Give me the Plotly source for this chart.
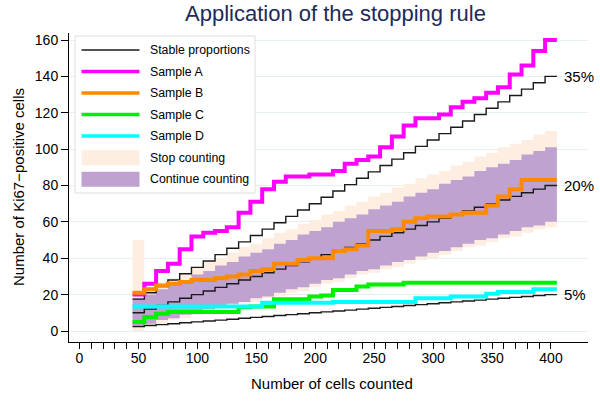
import plotly.graph_objects as go

# ---------------- data ----------------
cells = [50, 60, 70, 80, 90, 100, 110, 120, 130, 140, 150, 160, 170, 180, 190, 200, 210, 220,
         230, 240, 250, 260, 270, 280, 290, 300, 310, 320, 330, 340, 350, 360, 370, 380, 390, 400]

stable_5 = [2.5, 3, 3.5, 4, 4.5, 5, 5.5, 6, 6.5, 7, 7.5, 8, 8.5, 9, 9.5, 10, 10.5, 11,
            11.5, 12, 12.5, 13, 13.5, 14, 14.5, 15, 15.5, 16, 16.5, 17, 17.5, 18, 18.5, 19, 19.5, 20]
stable_20 = [10, 12, 14, 16, 18, 20, 22, 24, 26, 28, 30, 32, 34, 36, 38, 40, 42, 44,
             46, 48, 50, 52, 54, 56, 58, 60, 62, 64, 66, 68, 70, 72, 74, 76, 78, 80]
stable_35 = [17.5, 21, 24.5, 28, 31.5, 35, 38.5, 42, 45.5, 49, 52.5, 56, 59.5, 63, 66.5, 70, 73.5, 77,
             80.5, 84, 87.5, 91, 94.5, 98, 101.5, 105, 108.5, 112, 115.5, 119, 122.5, 126, 129.5, 133, 136.5, 140]

sample_a = [20, 26, 33, 37, 45, 52, 54, 55, 57, 65, 71, 78, 82, 85, 85, 86, 86, 88,
            92, 94, 96, 101, 107, 113, 117, 117, 119, 123, 126, 128, 131, 134, 141, 146, 154, 160]
sample_b = [21, 23, 25, 26, 27, 28, 28, 29, 30, 31, 33, 34, 37, 37, 39, 40, 40, 44,
            45, 47, 55, 55, 56, 60, 62, 63, 63, 64, 65, 65, 69, 74, 78, 83, 83, 83]
sample_c = [5, 7.5, 9.5, 10.5, 10.5, 10.5, 10.5, 10.5, 10.5, 13, 13.5, 13.5, 17.5, 17.5, 17.5, 19, 19.5, 22.5,
            22.5, 24.5, 25.5, 25.5, 25.5, 26.5, 26.5, 26.5, 26.5, 26.5, 26.5, 26.5, 26.5, 26.5, 26.5, 26.5, 26.5, 26.5]
sample_d = [13.5, 13.5, 13.5, 13.5, 13.5, 13.5, 13.5, 13.5, 13.5, 13.5, 13.5, 15.5, 15.5, 15.5, 15.5, 15.5, 15.5, 16,
            16, 16, 16, 16, 16, 16, 18, 18, 18, 19, 19, 19, 20.5, 21.5, 21.5, 21.5, 23, 23]

stop_low = [0, 3, 4, 6, 7, 9, 10, 12, 13, 15, 16, 18, 19, 21, 22, 24, 26, 27,
            29, 31, 32, 34, 35, 37, 39, 40, 42, 44, 46, 47, 49, 51, 52, 54, 56, 57]
stop_high = [50, 24, 27, 29, 32, 35, 38, 40, 43, 46, 48, 51, 54, 56, 59, 61, 64, 66,
             69, 71, 74, 76, 79, 81, 84, 86, 88, 91, 93, 96, 98, 101, 103, 105, 108, 110]
cont_low = [3, 4, 6, 7, 9, 10, 12, 13, 15, 16, 18, 19, 21, 23, 24, 26, 28, 29,
            31, 33, 34, 36, 38, 39, 41, 43, 44, 46, 48, 50, 51, 53, 55, 57, 58, 60]
cont_high = [18, 20, 23, 26, 28, 31, 33, 36, 38, 41, 43, 45, 48, 50, 53, 55, 57, 60,
             62, 64, 67, 69, 71, 74, 76, 78, 81, 83, 85, 88, 90, 92, 94, 97, 99, 101]

x_tick_values = list(range(0, 401, 10))
x_tick_labels = [str(v) if v % 50 == 0 else "" for v in x_tick_values]
y_tick_values = [0, 20, 40, 60, 80, 100, 120, 140, 160]
stable_labels = ["5%", "20%", "35%"]

legend_names = ["Stable proportions", "Sample A", "Sample B", "Sample C", "Sample D",
                "Stop counting", "Continue counting"]

# ---------------- styles ----------------
FONT = "Liberation Sans, Arial, sans-serif"
C_STOP = "#fdeee1"
C_CONT = "#bfa2cf"
C_A = "#ff00ff"
C_B = "#ff8a00"
C_C = "#00f000"
C_D = "#00ffff"
C_BLACK = "#1a1a1a"
GRID = "#e6eff1"

W, H = 600, 404
L, R, T, B = 69, 12, 33, 62

half = (cells[1] - cells[0]) / 2
edges = [c - half for c in cells] + [cells[-1] + half]


def step_line(vals):
    return edges, list(vals) + [vals[-1]]


def step_band(lo, hi):
    xs, ys = [], []
    for i, v in enumerate(hi):
        xs += [edges[i], edges[i + 1]]
        ys += [v, v]
    for i in range(len(lo) - 1, -1, -1):
        xs += [edges[i + 1], edges[i]]
        ys += [lo[i], lo[i]]
    return xs, ys


fig = go.Figure()

for lo, hi, col in [(stop_low, stop_high, C_STOP), (cont_low, cont_high, C_CONT)]:
    bx, by = step_band(lo, hi)
    fig.add_trace(go.Scatter(x=bx, y=by, mode="lines", fill="toself", fillcolor=col,
                             line=dict(width=0, color=col), hoverinfo="skip", showlegend=False))

for vals in [stable_5, stable_20, stable_35]:
    sx, sy = step_line(vals)
    fig.add_trace(go.Scatter(x=sx, y=sy, mode="lines", line=dict(color=C_BLACK, width=1.4, shape="hv"),
                             showlegend=False))

for vals, col in [(sample_a, C_A), (sample_b, C_B), (sample_c, C_C), (sample_d, C_D)]:
    sx, sy = step_line(vals)
    fig.add_trace(go.Scatter(x=sx, y=sy, mode="lines", line=dict(color=col, width=4, shape="hv"),
                             showlegend=False))

# ---------------- manual legend ----------------
pw, ph = W - L - R, H - T - B


def fx(px):
    return (px - L) / pw


def fy(py):
    return (H - B - py) / ph


# percentage labels at the end of stable lines
for lab, vals in zip(stable_labels, [stable_5, stable_20, stable_35]):
    fig.add_annotation(xref="paper", yref="y", x=fx(562), y=vals[-1], text=lab, showarrow=False,
                       xanchor="left", yanchor="middle", font=dict(family=FONT, size=15, color="black"))

shapes = [dict(type="rect", xref="paper", yref="paper", x0=fx(75), x1=fx(255), y0=fy(193), y1=fy(36),
               fillcolor="white", line=dict(color="#dedede", width=1), layer="above")]
leg_y = [50, 71.5, 93, 114.5, 136, 157.8, 179.3]
leg_styles = [("line", C_BLACK, 1.4), ("line", C_A, 3.5), ("line", C_B, 3.5), ("line", C_C, 3.5),
              ("line", C_D, 3.5), ("rect", C_STOP, 0), ("rect", C_CONT, 0)]
for name, yy, (kind, col, lw) in zip(legend_names, leg_y, leg_styles):
    if kind == "line":
        shapes.append(dict(type="line", xref="paper", yref="paper", x0=fx(81.5), x1=fx(139.5),
                           y0=fy(yy), y1=fy(yy), line=dict(color=col, width=lw), layer="above"))
    else:
        shapes.append(dict(type="rect", xref="paper", yref="paper", x0=fx(81.5), x1=fx(139.5),
                           y0=fy(yy + 7.5), y1=fy(yy - 7.5), fillcolor=col, line=dict(width=0),
                           layer="above"))
    fig.add_annotation(xref="paper", yref="paper", x=fx(148), y=fy(yy), text=name, showarrow=False,
                       xanchor="left", yanchor="middle", font=dict(family=FONT, size=12.3, color="black"))

# titles
fig.add_annotation(xref="paper", yref="paper", x=fx(335), y=fy(14), text="Application of the stopping rule",
                   showarrow=False, xanchor="center", yanchor="middle",
                   font=dict(family=FONT, size=22, color="#1c2b5a"))
fig.add_annotation(xref="paper", yref="paper", x=fx(332), y=fy(383), text="Number of cells counted",
                   showarrow=False, xanchor="center", yanchor="middle",
                   font=dict(family=FONT, size=15, color="black"))
fig.add_annotation(xref="paper", yref="paper", x=fx(18), y=fy(187), text="Number of Ki67\u2212positive cells",
                   showarrow=False, xanchor="center", yanchor="middle", textangle=-90,
                   font=dict(family=FONT, size=15, color="black"))

fig.update_layout(
    width=W, height=H, autosize=False,
    margin=dict(l=L, r=R, t=T, b=B),
    paper_bgcolor="white", plot_bgcolor="white",
    showlegend=False, shapes=shapes,
    font=dict(family=FONT, size=14, color="black"),
)
fig.update_xaxes(range=[-8.9, 431.4], tickmode="array", tickvals=x_tick_values, ticktext=x_tick_labels,
                 ticks="outside", ticklen=6, tickwidth=1, tickcolor="black", showgrid=False, zeroline=False,
                 showline=True, linecolor="black", linewidth=1, tickfont=dict(family=FONT, size=14),
                 ticklabelstandoff=-3)
fig.update_yaxes(range=[-6.05, 163.85], tickmode="array", tickvals=y_tick_values,
                 ticks="outside", ticklen=7, tickwidth=1, tickcolor="black", showgrid=True, gridcolor=GRID,
                 gridwidth=1, zeroline=False, showline=True, linecolor="black", linewidth=1,
                 tickfont=dict(family=FONT, size=14))

fig.write_html("out.html", config={"displayModeBar": False},
               post_script="document.body.style.margin='0';document.body.style.overflow='hidden';")
